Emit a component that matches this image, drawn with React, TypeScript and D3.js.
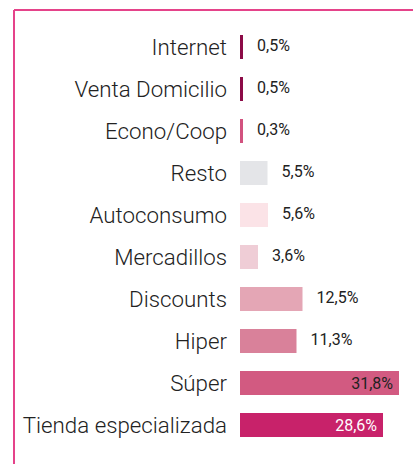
import React from "react";
import * as d3 from "d3";

const categories = [
  "Internet",
  "Venta Domicilio",
  "Econo/Coop",
  "Resto",
  "Autoconsumo",
  "Mercadillos",
  "Discounts",
  "Hiper",
  "Súper",
  "Tienda especializada",
];
const values = [0.5, 0.5, 0.3, 5.5, 5.6, 3.6, 12.5, 11.3, 31.8, 28.6];
const labels = ["0,5%", "0,5%", "0,3%", "5,5%", "5,6%", "3,6%", "12,5%", "11,3%", "31,8%", "28,6%"];
const colors = [
  "#8c0b47",
  "#8c0b47",
  "#d2527f",
  "#e4e5e8",
  "#fbe3e7",
  "#efcdd6",
  "#e4a6b5",
  "#d9819a",
  "#d25a81",
  "#c8226a",
];

export default function App() {
  const W = 413;
  const H = 464;
  const x0 = 240;
  const x = d3.scaleLinear().domain([0, 31.8]).range([0, 159]);
  const y = d3
    .scaleBand<string>()
    .domain(categories)
    .range([35 - 9, 35 - 9 + 42 * categories.length])
    .paddingInner(18 / 42)
    .paddingOuter(9 / 42);
  const bw = y.bandwidth();
  const inside = (i: number) => values[i] > 25;
  return (
    <svg
      width={W}
      height={H}
      style={{ position: "absolute", left: 0, top: 0, background: "#fff" }}
    >
      <line x1={14} y1={10} x2={W} y2={10} stroke="#e5438a" strokeWidth={2} />
      <line x1={14} y1={10} x2={14} y2={H} stroke="#e5438a" strokeWidth={2} />
      {categories.map((c, i) => {
        const yy = y(c)!;
        const w = Math.max(3, x(values[i]));
        const cy = yy + bw / 2;
        return (
          <g key={c}>
            <text
              x={227}
              y={cy}
              textAnchor="end"
              dominantBaseline="central"
              fontFamily="Roboto, sans-serif"
              fontWeight={300}
              fontSize={22.3}
              fill="#222"
            >
              {c}
            </text>
            <rect x={x0} y={yy} width={w} height={bw} fill={colors[i]} />
            {inside(i) ? (
              <text
                x={x0 + w - 6}
                y={cy}
                textAnchor="end"
                dominantBaseline="central"
                fontFamily="Roboto, sans-serif"
                fontWeight={400}
                fontSize={16}
                fill={i === categories.length - 1 ? "#fff" : "#222"}
              >
                {labels[i]}
              </text>
            ) : (
              <text
                x={x0 + w + 14}
                y={cy - 2}
                textAnchor="start"
                dominantBaseline="central"
                fontFamily="Roboto, sans-serif"
                fontWeight={400}
                fontSize={16}
                fill="#222"
              >
                {labels[i]}
              </text>
            )}
          </g>
        );
      })}
    </svg>
  );
}
